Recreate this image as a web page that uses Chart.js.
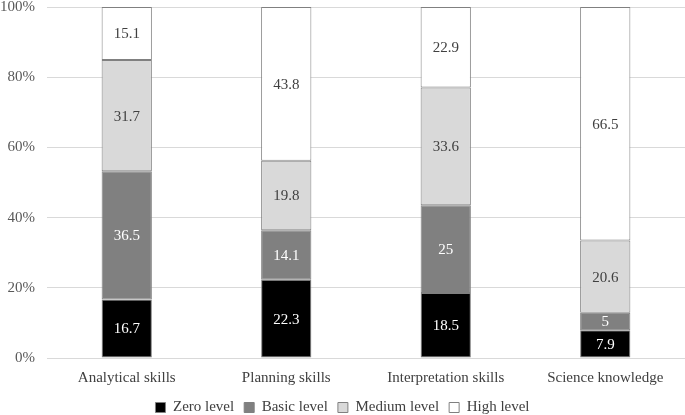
<!DOCTYPE html>
<html>
<head>
<meta charset="utf-8">
<script src="https://cdn.jsdelivr.net/npm/chart.js@4"></script>
<style>
  html, body { margin: 0; padding: 0; background: #fff; }
  #wrap { width: 685px; height: 415px; }
</style>
</head>
<body>
<div id="wrap"><canvas id="chart"></canvas></div>
<script>
const categories = ['Analytical skills', 'Planning skills', 'Interpretation skills', 'Science knowledge'];
const zeroLevel = [16.7, 22.3, 18.5, 7.9];
const basicLevel = [36.5, 14.1, 25, 5];
const mediumLevel = [31.7, 19.8, 33.6, 20.6];
const highLevel = [15.1, 43.8, 22.9, 66.5];
const yTicks = [0, 20, 40, 60, 80, 100];

const FONT = 'Liberation Serif, Times New Roman, serif';

// Values written in the middle of each segment
const segmentLabels = {
    id: 'segmentLabels',
    afterDatasetsDraw(chart) {
        const ctx = chart.ctx;
        ctx.save();
        ctx.font = '15px ' + FONT;
        ctx.textAlign = 'center';
        ctx.textBaseline = 'middle';
        chart.data.datasets.forEach((ds, i) => {
            const meta = chart.getDatasetMeta(i);
            meta.data.forEach((bar, j) => {
                const v = ds.data[j];
                ctx.fillStyle = ds.labelColor;
                ctx.fillText(String(v), bar.x, (bar.y + bar.base) / 2 + 1);
            });
        });
        ctx.restore();
    }
};

const mk = (label, data, bg, labelColor) => ({
    label, data,
    backgroundColor: bg,
    borderColor: '#808080',
    borderWidth: 1,
    borderSkipped: false,
    labelColor,
    barPercentage: 0.63,
    categoryPercentage: 0.5
});

new Chart(document.getElementById('chart'), {
    type: 'bar',
    data: {
        labels: categories,
        datasets: [
            mk('Zero level', zeroLevel, '#000000', '#ffffff'),
            mk('Basic level', basicLevel, '#808080', '#ffffff'),
            mk('Medium level', mediumLevel, '#d9d9d9', '#404040'),
            mk('High level', highLevel, '#ffffff', '#404040')
        ]
    },
    options: {
        responsive: true, maintainAspectRatio: false,
        animation: false,
        layout: { padding: { top: 7, right: 0, left: 0, bottom: -10 } },
        plugins: {
            tooltip: { enabled: false },
            legend: {
                position: 'bottom',
                labels: {
                    color: '#404040',
                    font: { family: FONT, size: 15 },
                    boxWidth: 10, boxHeight: 10,
                    padding: 10
                }
            }
        },
        scales: {
            x: {
                stacked: true,
                grid: { display: false },
                border: { display: false },
                ticks: { color: '#404040', font: { family: FONT, size: 15 }, padding: 3 }
            },
            y: {
                stacked: true,
                min: 0, max: 100,
                afterFit: s => { s.width = 47; s.paddingTop = 0; s.paddingBottom = 0; },
                afterBuildTicks: s => { s.ticks = yTicks.map(v => ({ value: v })); },
                grid: { color: '#d9d9d9', lineWidth: 1, drawTicks: false },
                border: { display: false },
                ticks: {
                    color: '#595959', font: { family: FONT, size: 15 }, padding: 12,
                    callback: v => v + '%'
                }
            }
        }
    },
    plugins: [segmentLabels]
});
</script>
</body>
</html>
